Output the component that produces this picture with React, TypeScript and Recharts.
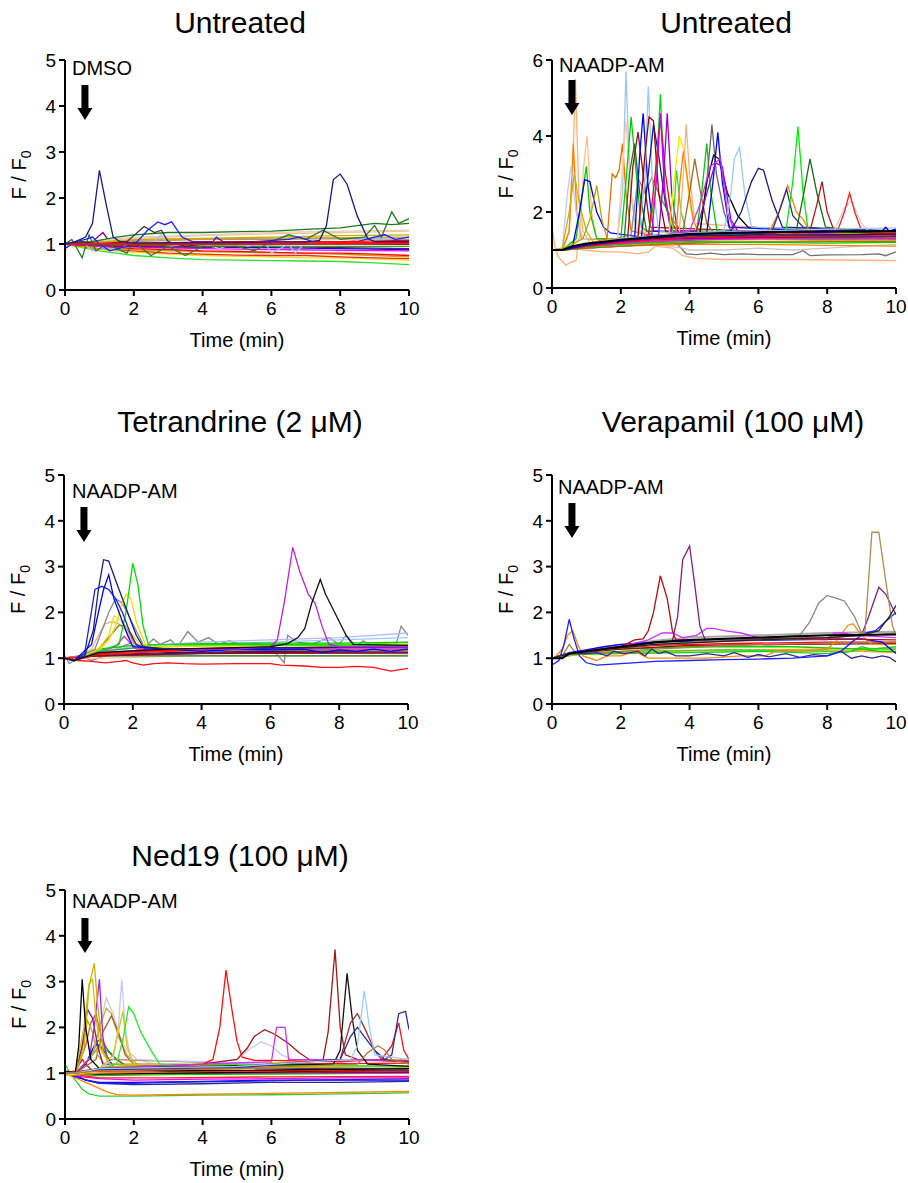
import { LineChart, Line, XAxis, YAxis, Label } from 'recharts';

type Pt = [number, number];
type Trace = { c: string; p: Pt[]; w?: number };

const FONT = 'Arial, "Liberation Sans", sans-serif';
const X_TICKS = [0, 2, 4, 6, 8, 10];
const Y_TICKS_5 = [0, 1, 2, 3, 4, 5];
const Y_TICKS_6 = [0, 2, 4, 6];

// Untreated + DMSO
const DMSO_TRACES: Trace[] = [
  { c: '#33dd33', p: [[0, 1], [0.5, 0.92], [1, 0.85], [2, 0.75], [3, 0.7], [4, 0.66], [5, 0.65], [6, 0.64], [7, 0.63], [8, 0.62], [9, 0.59], [10, 0.55]] },
  { c: '#e8e000', p: [[0, 1], [1, 0.88], [2, 0.82], [3, 0.78], [4, 0.75], [5, 0.73], [6, 0.72], [7, 0.7], [8, 0.7], [9, 0.67], [10, 0.65]] },
  { c: '#ff2020', p: [[0, 1], [1, 0.9], [2, 0.85], [3, 0.8], [4, 0.78], [5, 0.76], [6, 0.75], [7, 0.75], [8, 0.72], [9, 0.7], [10, 0.68]] },
  { c: '#d4a000', p: [[0, 1], [1, 0.9], [3, 0.85], [5, 0.82], [7, 0.8], [9, 0.75], [10, 0.72]] },
  { c: '#ff0000', p: [[0, 1], [1, 0.95], [2, 0.9], [3, 0.88], [4, 0.85], [5, 0.84], [6, 0.82], [7, 0.8], [8, 0.8], [9, 0.78], [10, 0.75]] },
  { c: '#ff00ff', p: [[0, 1], [1, 0.95], [2, 0.93], [4, 0.9], [6, 0.88], [8, 0.86], [10, 0.85]] },
  { c: '#0000ff', p: [[0, 1], [1, 0.97], [2, 0.95], [4, 0.93], [6, 0.92], [8, 0.9], [10, 0.88]] },
  { c: '#800080', p: [[0, 1], [0.8, 1.05], [1.1, 1.25], [1.4, 0.95], [2, 0.95], [4, 0.93], [6, 0.95], [8, 0.92], [10, 0.9]] },
  { c: '#00c000', p: [[0, 1], [1, 0.98], [2, 0.97], [4, 0.96], [6, 0.95], [8, 0.95], [10, 0.95]] },
  { c: '#999999', p: [[0, 1], [2, 1.05], [4, 1.1], [6, 1.1], [8, 1.12], [10, 1.1]] },
  { c: '#c0b000', p: [[0, 1], [1, 1.05], [2, 1.1], [4, 1.12], [6, 1.15], [8, 1.18], [10, 1.2]] },
  { c: '#ffc090', p: [[0, 1], [1, 1.08], [2, 1.12], [4, 1.18], [6, 1.22], [8, 1.25], [10, 1.28]] },
  { c: '#e0d0c0', p: [[0, 1], [2, 1.15], [4, 1.2], [6, 1.25], [8, 1.28], [10, 1.3]] },
  { c: '#d0a020', p: [[0, 1], [2, 1.08], [5, 1.12], [10, 1.15]] },
  { c: '#aabbee', p: [[0, 0.95], [0.5, 1.05], [0.8, 0.85], [1.2, 0.9], [1.5, 0.85], [2, 1.05], [2.5, 1.0], [2.8, 1.2], [3, 0.95], [3.5, 1.0], [4, 1.0], [4.5, 0.9], [5, 1.05], [5.3, 0.95], [5.8, 1.05], [6, 0.8], [6.5, 1.0], [6.7, 0.8], [7, 1.05], [8, 1.0], [8.5, 1.1], [9, 1.15], [9.5, 1.05], [10, 1.1]] },
  { c: '#1a7a1a', p: [[0, 1], [0.8, 1.05], [1.5, 1.15], [2, 1.2], [3, 1.25], [4, 1.25], [5, 1.27], [6, 1.28], [7, 1.32], [8, 1.35], [8.5, 1.4], [9, 1.45], [9.5, 1.42], [10, 1.45]] },
  { c: '#2a7a2a', p: [[0, 1], [0.2, 1.1], [0.5, 0.7], [0.7, 1.2], [0.9, 0.85], [1.2, 1.0], [1.8, 0.8], [2.0, 1.05], [2.5, 0.75], [3, 0.95], [3.5, 0.75], [4, 0.95], [5, 0.95], [5.5, 0.85], [6, 1.05], [6.5, 1.2], [7, 1.1], [7.5, 1.3], [8, 1.1], [8.7, 1.15], [9, 1.4], [9.2, 1.15], [9.5, 1.7], [9.7, 1.45], [10, 1.55]] },
  { c: '#333333', p: [[0, 1], [0.5, 1.05], [1, 1.0], [1.8, 1.05], [2.3, 1.38], [2.6, 1.25], [2.8, 1.3], [3.0, 1.05], [3.5, 0.95], [4, 1.0], [6, 1.0], [8, 1.02], [10, 1.0]] },
  { c: '#2020ff', p: [[0, 0.9], [0.3, 1.05], [0.6, 1.1], [0.8, 1.15], [1.0, 1.0], [1.3, 0.85], [1.8, 0.95], [2.1, 1.05], [2.4, 1.3], [2.7, 1.48], [2.9, 1.42], [3.1, 1.48], [3.4, 1.15], [3.7, 1.05], [4.3, 1.05], [4.4, 1.15], [4.6, 1.05], [5.5, 1.05], [6.5, 1.1], [6.8, 1.15], [7.2, 1.05], [8.5, 1.05], [9, 1.15], [9.3, 1.2], [9.6, 1.1], [10, 1.15]] },
  { c: '#a00000', p: [[0, 1], [2, 0.98], [5, 1.0], [10, 1.0]] },
  { c: '#ff0000', p: [[0, 1], [2, 1.02], [5, 1.05], [8, 1.05], [10, 1.08]] },
  { c: '#ff1010', p: [[0, 1], [1, 1.0], [2, 1.0], [4, 1.0], [6, 1.0], [8, 1.02], [10, 1.02]], w: 2 },
  { c: '#1a1a80', p: [[0, 1], [0.3, 1.05], [0.6, 1.15], [0.8, 1.45], [1.0, 2.6], [1.2, 1.85], [1.4, 1.15], [1.6, 1.05], [2, 1.02], [4, 1.03], [6, 1.04], [7, 1.04], [7.4, 1.08], [7.6, 1.4], [7.8, 2.4], [8.0, 2.52], [8.2, 2.3], [8.5, 1.6], [8.8, 1.12], [9, 1.05], [10, 1.05]] },
];

// Untreated + NAADP-AM
const NAADP_TRACES: Trace[] = [
  { c: '#707070', p: [[0, 1], [0.3, 1], [1, 1.05], [2, 1.1], [3, 1.15], [3.6, 1.2], [3.9, 0.9], [4.2, 0.88], [4.6, 0.92], [5, 0.88], [5.5, 0.9], [6, 0.88], [7, 0.88], [7.3, 0.98], [7.5, 0.85], [8, 0.87], [9, 0.88], [9.5, 0.9], [9.7, 0.85], [10, 0.95]] },
  { c: '#ffb07a', p: [[0, 1.65], [0.1, 1.0], [0.2, 0.8], [0.4, 0.6], [0.55, 0.68], [0.7, 0.72], [0.75, 1.1], [0.9, 1.0], [1.5, 0.95], [2, 0.95], [2.5, 0.9], [2.8, 0.95], [3, 1.1], [3.5, 1.05], [3.8, 0.85], [4.2, 0.78], [5, 0.75], [7, 0.75], [9, 0.73], [10, 0.72]] },
  { c: '#c8c8c8', p: [[0, 1], [0.3, 1], [1, 1.05], [2, 1.1], [3, 1.15], [3.8, 1.05], [4, 1.0], [5, 1.0], [6, 1.05], [7, 1.0], [8, 1.05], [9, 1.1], [10, 1.15]] },
  { c: '#ffb07a', p: [[0, 1], [0.3, 1], [0.5, 1.5], [0.6, 3.0], [0.68, 5.5], [0.78, 2.5], [0.9, 1.5], [1.1, 1.2], [2, 1.25], [4, 1.3], [10, 1.3]] },
  { c: '#ff8000', p: [[0, 1], [0.3, 1], [0.5, 1.5], [0.62, 3.8], [0.72, 2.0], [0.85, 1.3], [2, 1.25], [5, 1.3], [10, 1.28]] },
  { c: '#c0c8ff', p: [[0, 1], [0.3, 1.05], [0.45, 2.5], [0.55, 3.2], [0.7, 2.0], [0.9, 1.3], [2, 1.3], [10, 1.4]] },
  { c: '#ffc090', p: [[0, 1], [0.3, 1], [0.8, 1.3], [0.92, 3.2], [1.02, 4.0], [1.15, 2.0], [1.3, 1.3], [3, 1.3], [10, 1.35]] },
  { c: '#c8b400', p: [[0, 1], [0.3, 1.05], [0.5, 2.0], [0.65, 3.0], [0.8, 2.2], [1.0, 1.5], [1.2, 1.2], [3, 1.25], [10, 1.3]] },
  { c: '#00cc00', p: [[0, 1], [0.3, 1], [0.7, 1.3], [0.9, 2.6], [1.0, 3.2], [1.1, 2.0], [1.3, 1.3], [3, 1.3], [10, 1.35]] },
  { c: '#0000ff', p: [[0, 1], [0.3, 1], [0.6, 1.1], [0.8, 2.0], [0.95, 2.85], [1.1, 2.8], [1.3, 2.0], [1.5, 1.6], [1.7, 1.45], [2.5, 1.35], [10, 1.45]] },
  { c: '#b8a800', p: [[0, 1], [0.3, 1], [0.9, 1.3], [1.1, 1.8], [1.3, 2.7], [1.45, 1.8], [1.6, 1.3], [3, 1.3], [10, 1.3]] },
  { c: '#e87000', p: [[0, 1], [0.3, 1], [1, 1.15], [1.6, 1.3], [1.75, 3.0], [1.85, 2.9], [1.95, 3.1], [2.05, 3.8], [2.15, 2.5], [2.3, 1.5], [3, 1.35], [10, 1.3]] },
  { c: '#99c8f0', p: [[0, 1], [0.3, 1], [1, 1.15], [1.9, 1.3], [2.05, 2.5], [2.15, 5.7], [2.28, 2.5], [2.45, 1.5], [3, 1.4], [10, 1.5]] },
  { c: '#ffc8a0', p: [[0, 1], [0.3, 1], [1, 1.15], [1.9, 1.3], [2.05, 3.2], [2.15, 4.4], [2.3, 2.5], [2.5, 1.5], [10, 1.35]] },
  { c: '#00cc00', p: [[0, 1], [0.3, 1], [1, 1.15], [2.0, 1.3], [2.15, 2.8], [2.3, 4.5], [2.45, 3.0], [2.6, 1.6], [3, 1.35], [10, 1.25]] },
  { c: '#1a7a1a', p: [[0, 1], [0.3, 1], [1, 1.1], [2.1, 1.3], [2.25, 3.0], [2.4, 3.8], [2.55, 2.5], [2.75, 1.5], [10, 1.3]] },
  { c: '#888888', p: [[0, 1], [0.3, 1], [1, 1.1], [2.3, 1.4], [2.5, 2.9], [2.7, 2.5], [2.9, 2.9], [3.2, 2.3], [3.5, 1.8], [3.8, 1.45], [10, 1.4]] },
  { c: '#8b1a1a', p: [[0, 1], [0.3, 1], [1, 1.1], [2.2, 1.3], [2.35, 3.2], [2.5, 4.1], [2.65, 3.0], [2.85, 1.6], [10, 1.35]] },
  { c: '#0000ff', p: [[0, 1], [0.3, 1], [1, 1.12], [2.4, 1.3], [2.55, 3.5], [2.65, 4.6], [2.78, 2.8], [2.95, 1.5], [10, 1.45]] },
  { c: '#99c8f0', p: [[0, 1], [0.3, 1], [1, 1.1], [2.5, 1.35], [2.7, 2.8], [2.8, 5.3], [2.92, 2.8], [3.1, 1.5], [10, 1.5]] },
  { c: '#990000', p: [[0, 1], [0.3, 1], [1, 1.1], [2.5, 1.35], [2.7, 3.5], [2.82, 4.5], [2.95, 4.4], [3.1, 2.5], [3.3, 1.5], [10, 1.4]] },
  { c: '#1a1a80', p: [[0, 1], [0.3, 1], [1, 1.1], [2.6, 1.35], [2.8, 3.0], [2.95, 4.3], [3.1, 3.5], [3.3, 2.2], [3.5, 1.5], [10, 1.4]] },
  { c: '#00dd00', p: [[0, 1], [0.3, 1], [1, 1.1], [2.8, 1.35], [3.0, 2.5], [3.15, 5.1], [3.28, 2.5], [3.45, 1.5], [10, 1.3]] },
  { c: '#ff0000', p: [[0, 1], [0.3, 1], [1, 1.1], [2.8, 1.35], [3.0, 3.0], [3.15, 4.5], [3.3, 3.0], [3.5, 1.7], [3.7, 1.4], [10, 1.4]] },
  { c: '#cc00ff', p: [[0, 1], [0.3, 1], [1, 1.1], [2.9, 1.4], [3.05, 3.0], [3.15, 4.6], [3.28, 2.5], [3.45, 1.5], [10, 1.35]] },
  { c: '#9900cc', p: [[0, 1], [0.3, 1], [1, 1.1], [3.1, 1.4], [3.25, 3.0], [3.35, 4.6], [3.48, 2.5], [3.65, 1.5], [10, 1.35]] },
  { c: '#eeee00', p: [[0, 1], [0.3, 1], [1, 1.1], [3.4, 1.4], [3.55, 2.8], [3.7, 4.0], [3.85, 3.6], [4.0, 2.2], [4.2, 1.5], [10, 1.35]] },
  { c: '#33dd33', p: [[0, 1], [0.3, 1], [1, 1.1], [3.5, 1.4], [3.62, 3.1], [3.75, 2.0], [3.9, 1.5], [10, 1.3]] },
  { c: '#ff8000', p: [[0, 1], [0.3, 1], [1, 1.1], [3.6, 1.4], [3.72, 2.8], [3.82, 3.6], [3.95, 2.8], [4.1, 1.8], [4.3, 1.4], [10, 1.3]] },
  { c: '#ffb07a', p: [[0, 1], [0.3, 1], [1, 1.1], [3.7, 1.45], [3.82, 3.0], [3.9, 4.3], [4.0, 3.0], [4.15, 1.7], [10, 1.35]] },
  { c: '#a06a2a', p: [[0, 1], [0.3, 1], [1, 1.1], [3.8, 1.45], [4.0, 2.5], [4.15, 3.4], [4.3, 2.6], [4.5, 1.7], [4.7, 1.45], [10, 1.3]] },
  { c: '#00cc00', p: [[0, 1], [0.3, 1], [1, 1.1], [4.2, 1.45], [4.35, 2.5], [4.5, 3.8], [4.62, 2.5], [4.8, 1.5], [10, 1.35]] },
  { c: '#666666', p: [[0, 1], [0.3, 1], [1, 1.1], [4.3, 1.45], [4.5, 2.8], [4.65, 4.3], [4.78, 3.0], [5.0, 2.0], [5.2, 1.5], [10, 1.4]] },
  { c: '#000000', p: [[0, 1], [0.3, 1], [1, 1.1], [4.3, 1.45], [4.5, 2.8], [4.7, 3.5], [4.85, 3.4], [5.1, 2.5], [5.4, 1.9], [5.7, 1.6], [10, 1.45]] },
  { c: '#0000ff', p: [[0, 1], [0.3, 1], [1, 1.1], [4.5, 1.45], [4.68, 2.8], [4.82, 4.1], [4.95, 2.8], [5.15, 1.6], [10, 1.4]] },
  { c: '#9900cc', p: [[0, 1], [0.3, 1], [1, 1.1], [4.2, 1.5], [4.5, 2.5], [4.75, 3.3], [4.95, 3.2], [5.2, 1.8], [5.4, 1.5], [10, 1.35]] },
  { c: '#cc33ff', p: [[0, 1], [0.3, 1], [1, 1.1], [4.0, 1.5], [4.3, 2.2], [4.6, 3.2], [4.9, 3.4], [5.1, 2.0], [5.3, 1.5], [10, 1.4]] },
  { c: '#99c8f0', p: [[0, 1], [0.3, 1], [1, 1.1], [5.0, 1.5], [5.2, 2.5], [5.3, 3.4], [5.45, 3.7], [5.6, 2.5], [5.8, 1.6], [10, 1.5]] },
  { c: '#1a1a80', p: [[0, 1], [0.3, 1], [1, 1.1], [5.2, 1.5], [5.5, 2.0], [5.8, 2.8], [6.0, 3.15], [6.15, 3.1], [6.4, 2.3], [6.7, 1.6], [10, 1.5]] },
  { c: '#ff8000', p: [[0, 1], [0.3, 1], [1, 1.1], [6.3, 1.45], [6.6, 2.0], [6.85, 2.7], [7.1, 2.0], [7.3, 1.8], [7.5, 1.5], [10, 1.35]] },
  { c: '#2a2a90', p: [[0, 1], [0.3, 1], [1, 1.1], [6.4, 1.5], [6.6, 2.0], [6.82, 2.6], [7.0, 1.9], [7.3, 1.6], [10, 1.45]] },
  { c: '#00ee00', p: [[0, 1], [0.3, 1], [1, 1.1], [6.8, 1.5], [7.0, 2.8], [7.15, 4.25], [7.3, 2.5], [7.45, 1.5], [10, 1.4]] },
  { c: '#1a6a1a', p: [[0, 1], [0.3, 1], [1, 1.1], [7.1, 1.5], [7.3, 2.4], [7.5, 3.4], [7.7, 2.5], [7.95, 1.6], [10, 1.4]] },
  { c: '#b01a1a', p: [[0, 1], [0.3, 1], [1, 1.1], [7.5, 1.5], [7.7, 2.2], [7.85, 2.8], [8.0, 2.0], [8.2, 1.5], [10, 1.4]] },
  { c: '#d0d0d0', p: [[0, 1], [0.3, 1], [1, 1.1], [8.2, 1.5], [8.5, 2.1], [8.7, 2.3], [9.0, 1.7], [9.2, 1.5], [10, 1.5]] },
  { c: '#ff2020', p: [[0, 1], [0.3, 1], [1, 1.1], [8.3, 1.5], [8.5, 2.0], [8.65, 2.5], [8.8, 2.0], [9.0, 1.5], [10, 1.45]] },
  { c: '#ff8000', p: [[0, 1], [0.3, 1], [1, 1.05], [2, 1.1], [4, 1.15], [6, 1.15], [8, 1.12], [10, 1.1]] },
  { c: '#c8b400', p: [[0, 1], [0.3, 1], [1, 1.08], [2, 1.14], [4, 1.2], [6, 1.22], [8, 1.25], [10, 1.25]] },
  { c: '#a06a2a', p: [[0, 1], [0.3, 1], [1, 1.05], [3, 1.15], [5, 1.2], [8, 1.22], [10, 1.22]] },
  { c: '#00cc00', p: [[0, 1], [0.3, 1], [1, 1.08], [2, 1.15], [3, 1.2], [4, 1.22], [6, 1.2], [8, 1.18], [10, 1.2]] },
  { c: '#1a7a1a', p: [[0, 1], [0.3, 1], [1, 1.1], [2, 1.2], [3, 1.25], [5, 1.3], [8, 1.32], [10, 1.3]] },
  { c: '#800080', p: [[0, 1], [0.3, 1], [1, 1.12], [2, 1.22], [4, 1.3], [6, 1.33], [10, 1.35]] },
  { c: '#ff00ff', p: [[0, 1], [0.3, 1], [1, 1.1], [3, 1.25], [6, 1.3], [10, 1.3]] },
  { c: '#ff0000', p: [[0, 1], [0.3, 1], [1, 1.1], [2, 1.2], [3, 1.28], [4, 1.33], [6, 1.36], [8, 1.38], [10, 1.4]] },
  { c: '#b0c8f0', p: [[0, 1], [0.3, 1], [1, 1.15], [2, 1.3], [4, 1.45], [6, 1.5], [8, 1.55], [10, 1.58]] },
  { c: '#1a1a80', p: [[0, 1], [0.3, 1], [1, 1.13], [2, 1.25], [4, 1.38], [6, 1.4], [8, 1.4], [10, 1.42]] },
  { c: '#0000ff', p: [[0, 1], [0.3, 1], [1, 1.15], [2, 1.25], [3, 1.35], [4, 1.42], [6, 1.45], [8, 1.5], [9.6, 1.5], [9.7, 1.6], [9.8, 1.5], [10, 1.55]] },
  { c: '#000000', p: [[0, 1], [0.3, 1.0], [0.6, 1.1], [1, 1.17], [1.5, 1.22], [2, 1.27], [3, 1.35], [4, 1.42], [5, 1.45], [6, 1.47], [8, 1.48], [10, 1.5]], w: 2 },
];

// Tetrandrine (2 µM)
const TET_TRACES: Trace[] = [
  { c: '#888888', p: [[0, 1.1], [0.15, 0.88], [0.3, 0.95], [0.5, 1.05], [0.8, 0.95], [1.2, 1.05], [1.5, 1.2], [2, 1.35], [2.3, 1.2], [2.6, 1.42], [2.8, 1.3], [3.1, 1.4], [3.3, 1.25], [3.6, 1.58], [3.9, 1.35], [4.2, 1.45], [4.5, 1.3], [4.8, 1.38], [5.2, 1.28], [5.6, 1.32], [6.0, 1.25], [6.4, 0.9], [6.5, 1.5], [6.8, 1.35], [7.2, 1.3], [7.7, 1.45], [8.0, 1.3], [8.2, 1.5], [8.5, 1.25], [8.7, 1.38], [9.0, 1.25], [9.3, 1.35], [9.6, 1.15], [9.8, 1.7], [10, 1.5]] },
  { c: '#b8b8ff', p: [[0, 1], [0.4, 1.0], [1, 1.15], [2, 1.25], [4, 1.35], [6, 1.4], [8, 1.45], [9, 1.5], [10, 1.55]] },
  { c: '#99ccff', p: [[0, 1], [1, 1.12], [2, 1.22], [4, 1.3], [6, 1.35], [8, 1.4], [10, 1.45]] },
  { c: '#ffc090', p: [[0, 1], [1, 1.0], [4, 1.05], [10, 1.05]] },
  { c: '#1a7a1a', p: [[0, 1], [1, 1.05], [2, 1.05], [5, 1.05], [10, 1.05]] },
  { c: '#ff8000', p: [[0, 1], [1, 1.05], [3, 1.1], [6, 1.12], [10, 1.12]] },
  { c: '#a06a2a', p: [[0, 1], [1, 1.05], [5, 1.12], [10, 1.1]] },
  { c: '#800080', p: [[0, 1], [1, 1.05], [4, 1.1], [10, 1.12]] },
  { c: '#a00000', p: [[0, 1], [1, 1.05], [3, 1.1], [6, 1.12], [10, 1.15]] },
  { c: '#1a1a80', p: [[0, 1], [1, 1.08], [3, 1.12], [6, 1.15], [10, 1.15]] },
  { c: '#000000', p: [[0, 1], [1, 1.1], [3, 1.18], [6, 1.2], [10, 1.2]] },
  { c: '#ff00ff', p: [[0, 1], [1, 1.1], [4, 1.18], [10, 1.2]] },
  { c: '#e0d000', p: [[0, 1], [1, 1.1], [3, 1.15], [6, 1.2], [10, 1.35]] },
  { c: '#22bb22', p: [[0, 1], [0.3, 0.95], [1, 1.15], [2, 1.22], [4, 1.28], [6, 1.3], [10, 1.3]] },
  { c: '#00cc00', p: [[0, 1], [0.3, 0.95], [0.6, 1.1], [1, 1.2], [2, 1.28], [4, 1.32], [6, 1.33], [8, 1.33], [10, 1.35]] },
  { c: '#ff2020', p: [[0, 1], [1, 1.08], [3, 1.15], [6, 1.2], [10, 1.3]] },
  { c: '#ff0000', p: [[0, 1], [0.3, 0.95], [1, 1.1], [2, 1.15], [4, 1.2], [6, 1.22], [8, 1.25], [10, 1.25]], w: 1.6 },
  { c: '#ff1010', p: [[0, 1], [0.2, 0.98], [0.4, 0.95], [0.8, 0.93], [1.2, 0.9], [1.6, 0.93], [1.8, 0.95], [2.0, 0.9], [2.3, 0.85], [2.6, 0.88], [3, 0.9], [3.5, 0.88], [4, 0.87], [5, 0.88], [6, 0.88], [6.3, 0.85], [7, 0.83], [7.5, 0.8], [8, 0.8], [8.5, 0.82], [9, 0.8], [9.5, 0.72], [10, 0.78]] },
  { c: '#f0b080', p: [[0, 1], [0.3, 0.95], [0.8, 1.2], [1.0, 1.5], [1.2, 1.75], [1.4, 1.8], [1.6, 1.75], [1.8, 1.6], [2.0, 1.35], [2.2, 1.2], [10, 1.2]] },
  { c: '#a06a2a', p: [[0, 1], [0.3, 0.95], [1.0, 1.2], [1.3, 1.45], [1.6, 1.72], [1.8, 1.7], [2.0, 1.4], [2.2, 1.2], [10, 1.15]] },
  { c: '#888888', p: [[0, 1], [0.3, 0.95], [0.9, 1.2], [1.1, 1.6], [1.3, 2.0], [1.5, 2.3], [1.7, 2.2], [1.9, 1.9], [2.1, 1.6], [2.3, 1.3], [2.5, 1.2], [10, 1.25]] },
  { c: '#cc33cc', p: [[0, 1], [0.3, 0.95], [1, 1.15], [1.5, 1.25], [1.75, 1.48], [1.9, 1.35], [2.1, 1.2], [10, 1.2]] },
  { c: '#f0e000', p: [[0, 1], [0.3, 0.95], [1, 1.2], [1.3, 1.5], [1.45, 1.92], [1.6, 1.85], [1.8, 1.7], [2.0, 1.5], [2.2, 1.3], [10, 1.25]] },
  { c: '#eedd00', p: [[0, 1], [0.3, 0.95], [1, 1.15], [1.3, 1.4], [1.5, 1.7], [1.65, 2.1], [1.8, 2.4], [1.95, 2.3], [2.1, 1.8], [2.25, 1.5], [2.4, 1.25], [10, 1.3]] },
  { c: '#00dd00', p: [[0, 1], [0.3, 0.95], [1, 1.15], [1.6, 1.3], [1.8, 2.0], [2.0, 3.07], [2.15, 2.6], [2.3, 1.7], [2.45, 1.3], [10, 1.28]] },
  { c: '#2020ee', p: [[0, 1], [0.3, 0.95], [0.6, 1.1], [0.75, 1.8], [0.9, 2.5], [1.1, 2.57], [1.3, 2.5], [1.5, 2.3], [1.7, 2.0], [1.9, 1.6], [2.1, 1.3], [2.4, 1.2], [10, 1.25]] },
  { c: '#0000ff', p: [[0, 1], [0.3, 0.95], [0.8, 1.3], [1.0, 2.0], [1.15, 2.5], [1.3, 2.82], [1.45, 2.3], [1.65, 1.9], [1.85, 1.5], [2.0, 1.25], [3, 1.2], [4, 1.15], [5, 1.2], [6, 1.18], [7, 1.2], [7.5, 1.12], [8, 1.18], [8.5, 1.15], [9, 1.2], [9.5, 1.15], [10, 1.2]] },
  { c: '#1a1a80', p: [[0, 1], [0.3, 0.95], [0.6, 1.05], [0.85, 1.6], [1.0, 2.5], [1.15, 3.15], [1.3, 3.12], [1.5, 2.7], [1.7, 2.3], [1.9, 1.9], [2.1, 1.5], [2.3, 1.25], [3, 1.2], [10, 1.25]] },
  { c: '#bb22dd', p: [[0, 1], [0.3, 0.95], [1, 1.12], [3, 1.2], [5, 1.2], [6.0, 1.25], [6.2, 1.4], [6.4, 2.2], [6.65, 3.42], [6.85, 2.9], [7.1, 2.4], [7.3, 2.2], [7.5, 1.7], [7.7, 1.3], [8, 1.25], [10, 1.25]] },
  { c: '#111111', p: [[0, 1], [0.3, 0.95], [1, 1.12], [3, 1.2], [6, 1.25], [6.5, 1.32], [6.8, 1.45], [7.0, 1.65], [7.2, 2.2], [7.45, 2.72], [7.6, 2.4], [7.8, 2.1], [8.0, 1.8], [8.2, 1.5], [8.4, 1.3], [10, 1.28]] },
];

// Verapamil (100 µM)
const VER_TRACES: Trace[] = [
  { c: '#aaaaaa', p: [[0, 1], [0.5, 1.1], [1, 1.18], [2, 1.28], [3, 1.38], [4, 1.45], [6, 1.5], [8, 1.55], [10, 1.58]], w: 2 },
  { c: '#e0e000', p: [[0, 1], [0.5, 1.05], [1, 1.1], [3, 1.12], [6, 1.15], [10, 1.18]] },
  { c: '#c8b400', p: [[0, 1], [0.5, 1.08], [2, 1.12], [5, 1.18], [8, 1.2], [10, 1.22]] },
  { c: '#ffa040', p: [[0, 1], [0.5, 1.05], [1, 1.1], [3, 1.15], [6, 1.18], [9, 1.15], [10, 1.12]] },
  { c: '#33dd33', p: [[0, 1], [0.5, 1.1], [2, 1.15], [5, 1.18], [8, 1.15], [8.5, 1.12], [9, 1.2], [10, 1.2]] },
  { c: '#22cc22', p: [[0, 1], [0.5, 1.08], [2, 1.1], [4, 1.12], [6, 1.15], [8, 1.1], [8.7, 1.15], [9, 1.25], [9.3, 1.2], [10, 1.25]] },
  { c: '#00cc00', p: [[0, 1], [0.5, 1.1], [1, 1.15], [2, 1.2], [4, 1.25], [7, 1.25], [9, 1.2], [9.5, 1.15], [10, 1.15]] },
  { c: '#a00000', p: [[0, 1], [0.5, 1.1], [2, 1.2], [4, 1.28], [7, 1.3], [10, 1.32]] },
  { c: '#ff0000', p: [[0, 1], [0.5, 1.1], [1, 1.15], [2, 1.22], [3, 1.28], [5, 1.32], [8, 1.35], [10, 1.35]] },
  { c: '#a08040', p: [[0, 1], [0.3, 1.05], [0.5, 1.3], [0.65, 1.15], [1, 1.1], [3, 1.2], [6, 1.3], [10, 1.35]] },
  { c: '#ff8800', p: [[0, 0.95], [0.3, 1.2], [0.45, 1.5], [0.6, 1.6], [0.75, 1.3], [0.9, 1.05], [1.3, 0.95], [1.6, 1.05], [2, 1.05], [2.4, 1.15], [2.8, 1.0], [3.5, 1.0], [4.5, 1.0], [5.5, 1.05], [6.2, 1.05], [6.5, 1.15], [7, 1.15], [8, 1.2], [8.3, 1.4], [8.6, 1.72], [8.75, 1.75], [9, 1.5], [9.3, 1.3], [10, 1.3]] },
  { c: '#2a2a90', p: [[0, 1], [0.3, 1.0], [0.5, 1.1], [1, 1.1], [1.3, 1.12], [1.6, 1.05], [1.8, 1.15], [2.1, 1.1], [2.5, 1.15], [2.7, 1.05], [2.9, 1.2], [3.1, 1.1], [3.3, 1.15], [3.6, 1.05], [4, 1.05], [4.5, 1.1], [5, 1.05], [5.3, 1.12], [5.7, 1.02], [6, 1.08], [6.3, 1.03], [6.8, 1.1], [7.2, 1.02], [7.6, 1.08], [8, 1.05], [8.4, 1.15], [8.7, 1.0], [9, 1.05], [9.3, 1.0], [9.6, 1.05], [9.8, 1.02], [10, 0.92]] },
  { c: '#2020ff', p: [[0, 0.85], [0.2, 0.95], [0.35, 1.3], [0.5, 1.85], [0.65, 1.4], [0.8, 1.05], [1.0, 0.9], [1.3, 0.85], [2, 0.88], [3, 0.93], [4, 0.95], [5, 0.97], [6, 0.98], [7, 1.0], [8, 1.05], [8.4, 1.15], [8.8, 1.4], [9.1, 1.55], [9.4, 1.6], [9.7, 1.8], [10, 2.0]] },
  { c: '#0000ff', p: [[0, 1], [0.5, 1.12], [1, 1.18], [1.5, 1.25], [2, 1.3], [3, 1.35], [5, 1.38], [7, 1.4], [9, 1.42], [9.6, 1.35], [10, 1.1]] },
  { c: '#cc33ff', p: [[0, 1], [0.5, 1.1], [1, 1.15], [2, 1.25], [2.8, 1.4], [3.2, 1.55], [3.5, 1.55], [3.8, 1.45], [4.2, 1.5], [4.5, 1.65], [4.7, 1.65], [5, 1.6], [5.5, 1.55], [6, 1.45], [8, 1.4], [8.2, 1.55], [8.5, 1.55], [8.8, 1.5], [10, 1.45]] },
  { c: '#b01010', p: [[0, 1], [0.5, 1.1], [1, 1.15], [2, 1.25], [2.4, 1.4], [2.65, 1.42], [2.8, 1.6], [2.95, 2.0], [3.15, 2.8], [3.35, 2.3], [3.5, 1.6], [3.6, 1.4], [5, 1.4], [8, 1.42], [10, 1.4]] },
  { c: '#802080', p: [[0, 1], [0.5, 1.1], [1, 1.15], [2, 1.25], [3.5, 1.38], [3.65, 1.9], [3.8, 3.15], [4.0, 3.45], [4.15, 2.6], [4.3, 1.7], [4.45, 1.4], [6, 1.42], [8, 1.45], [9.0, 1.5], [9.2, 1.9], [9.5, 2.55], [9.7, 2.4], [9.9, 2.1], [10, 1.95]] },
  { c: '#888888', p: [[0, 1], [0.5, 1.1], [1, 1.15], [3, 1.3], [5, 1.4], [7.2, 1.5], [7.5, 1.8], [7.75, 2.2], [8.0, 2.37], [8.3, 2.3], [8.5, 2.25], [8.8, 1.9], [9.0, 1.55], [9.2, 1.5], [10, 1.55]] },
  { c: '#b08a50', p: [[0, 1], [0.5, 1.1], [1, 1.15], [3, 1.3], [6, 1.4], [8, 1.45], [8.9, 1.5], [9.1, 1.6], [9.3, 3.75], [9.5, 3.75], [9.7, 2.7], [9.9, 1.7], [10, 1.5]] },
  { c: '#222222', p: [[0, 1], [0.5, 1.1], [1, 1.15], [3, 1.3], [6, 1.4], [8, 1.45], [9, 1.5], [9.5, 1.6], [9.8, 1.9], [10, 2.15]] },
  { c: '#000000', p: [[0, 1], [0.3, 1], [0.5, 1.1], [1, 1.15], [2, 1.25], [3, 1.35], [4, 1.4], [6, 1.45], [8, 1.5], [10, 1.52]], w: 2 },
];

// Ned19 (100 µM)
const NED_TRACES: Trace[] = [
  { c: '#33cc33', p: [[0, 1.2], [0.15, 1.0], [0.3, 0.85], [0.5, 0.65], [0.7, 0.55], [1, 0.5], [2, 0.5], [4, 0.52], [6, 0.53], [8, 0.55], [10, 0.57]] },
  { c: '#ff8800', p: [[0, 1.0], [0.3, 0.9], [0.6, 0.8], [0.9, 0.7], [1.2, 0.6], [1.5, 0.53], [2, 0.52], [4, 0.54], [6, 0.56], [8, 0.58], [10, 0.6]] },
  { c: '#2a2a90', p: [[0, 1], [0.3, 0.95], [0.6, 0.85], [1, 0.78], [2, 0.75], [4, 0.77], [6, 0.8], [8, 0.8], [10, 0.82]] },
  { c: '#0000ff', p: [[0, 1], [0.3, 0.95], [0.6, 0.85], [1, 0.8], [2, 0.8], [4, 0.82], [6, 0.85], [8, 0.85], [10, 0.85]] },
  { c: '#2020ee', p: [[0, 1], [0.4, 0.9], [1, 0.78], [2, 0.78], [3, 0.8], [5, 0.82], [7, 0.85], [10, 0.88]] },
  { c: '#ff00ff', p: [[0, 1], [0.5, 0.92], [1, 0.88], [2, 0.85], [4, 0.87], [6, 0.88], [8, 0.9], [10, 0.9]] },
  { c: '#ff2020', p: [[0, 1], [0.5, 0.95], [1, 0.9], [3, 0.9], [6, 0.92], [10, 0.93]] },
  { c: '#00cc00', p: [[0, 1], [0.5, 0.97], [1, 0.95], [3, 0.97], [6, 0.98], [10, 1.0]] },
  { c: '#ff3399', p: [[0, 1], [1, 0.98], [4, 1.0], [10, 1.0]] },
  { c: '#800080', p: [[0, 1], [1, 1.0], [4, 1.0], [10, 1.02]] },
  { c: '#1a7a1a', p: [[0, 1], [1, 1.0], [3, 1.0], [6, 1.02], [10, 1.05]] },
  { c: '#a06a2a', p: [[0, 1], [1, 1.02], [3, 1.03], [6, 1.05], [10, 1.05]] },
  { c: '#000000', p: [[0, 1], [1, 0.98], [3, 1.0], [5, 1.02], [8, 1.05], [10, 1.08]] },
  { c: '#99ccff', p: [[0, 1], [1, 1.02], [4, 1.05], [10, 1.1]] },
  { c: '#ff8000', p: [[0, 0.95], [1, 1.0], [3, 1.03], [6, 1.05], [10, 1.1]] },
  { c: '#999999', p: [[0, 1], [1, 1.05], [3, 1.1], [6, 1.12], [10, 1.15]] },
  { c: '#ff0000', p: [[0, 1], [1, 1.05], [3, 1.08], [6, 1.12], [10, 1.15]] },
  { c: '#ff1010', p: [[0, 1], [1, 1.1], [3, 1.15], [6, 1.2], [10, 1.22]] },
  { c: '#eedd00', p: [[0, 0.95], [1, 1.05], [2, 1.12], [3, 1.15], [5, 1.2], [7, 1.25], [10, 1.3]] },
  { c: '#ff0000', p: [[0, 1], [0.3, 1.05], [0.5, 1.3], [0.6, 1.2], [0.8, 1.05], [10, 1.05]] },
  { c: '#33cc33', p: [[0, 1], [0.3, 1.0], [0.7, 1.3], [1.0, 1.6], [1.2, 1.5], [1.5, 1.3], [1.7, 1.2], [10, 1.15]] },
  { c: '#208020', p: [[0, 1], [0.3, 1.0], [0.7, 1.3], [0.95, 1.7], [1.05, 1.75], [1.25, 1.5], [1.5, 1.3], [1.8, 1.15], [10, 1.1]] },
  { c: '#0000ff', p: [[0, 1], [0.3, 1.0], [0.6, 1.2], [0.85, 1.6], [1.0, 1.62], [1.2, 1.4], [1.4, 1.15], [10, 1.1]] },
  { c: '#cccccc', p: [[0, 1], [0.3, 1.0], [0.8, 1.4], [1.0, 2.0], [1.2, 2.65], [1.4, 2.3], [1.6, 1.8], [1.8, 1.5], [2.1, 1.3], [2.6, 1.2], [10, 1.15]] },
  { c: '#d0a040', p: [[0, 1], [0.3, 1.0], [0.8, 1.4], [1.0, 2.0], [1.2, 2.42], [1.35, 2.3], [1.55, 1.8], [1.8, 1.4], [2.1, 1.2], [10, 1.15]] },
  { c: '#a06020', p: [[0, 1], [0.3, 1.0], [0.9, 1.3], [1.1, 1.9], [1.35, 2.25], [1.55, 1.9], [1.75, 1.4], [2.0, 1.2], [10, 1.1]] },
  { c: '#cc6a20', p: [[0, 1], [0.3, 1.0], [0.6, 1.6], [0.75, 2.1], [0.9, 2.3], [1.05, 1.8], [1.25, 1.3], [10, 1.1]] },
  { c: '#d0a020', p: [[0, 1], [0.3, 1.0], [0.5, 1.5], [0.65, 2.15], [0.8, 1.9], [0.95, 1.4], [1.2, 1.15], [10, 1.1]] },
  { c: '#702070', p: [[0, 1], [0.3, 1.0], [0.5, 1.6], [0.65, 2.4], [0.8, 2.2], [0.95, 1.6], [1.1, 1.2], [10, 1.05]] },
  { c: '#aa22dd', p: [[0, 1], [0.3, 1.0], [0.7, 1.3], [0.85, 2.0], [1.0, 3.05], [1.1, 1.8], [1.25, 1.2], [10, 1.1]] },
  { c: '#d0c000', p: [[0, 1], [0.3, 1.0], [0.55, 2.0], [0.7, 2.95], [0.8, 3.05], [0.9, 2.2], [1.05, 1.5], [1.3, 1.2], [10, 1.12]] },
  { c: '#c8b400', p: [[0, 1], [0.3, 1.0], [0.55, 1.5], [0.7, 2.9], [0.85, 3.4], [0.95, 2.5], [1.1, 1.5], [1.3, 1.2], [3, 1.1], [10, 1.15]] },
  { c: '#c0c8ff', p: [[0, 1], [0.3, 1.0], [1, 1.1], [1.4, 1.3], [1.55, 2.0], [1.65, 3.05], [1.75, 2.0], [1.9, 1.3], [10, 1.1]] },
  { c: '#d8c800', p: [[0, 1], [0.3, 1.0], [1, 1.1], [1.4, 1.4], [1.55, 1.9], [1.68, 2.35], [1.8, 1.6], [2.0, 1.2], [10, 1.15]] },
  { c: '#22ee22', p: [[0, 1], [0.3, 1.0], [1, 1.1], [1.5, 1.2], [1.7, 1.8], [1.85, 2.45], [2.0, 2.3], [2.2, 1.9], [2.5, 1.5], [2.75, 1.2], [10, 1.15]] },
  { c: '#000000', p: [[0, 1.05], [0.3, 1.0], [0.4, 1.6], [0.5, 3.05], [0.6, 2.0], [0.75, 1.3], [1, 1.1], [3, 1.05], [10, 1.1]] },
  { c: '#ff1010', p: [[0, 1], [0.3, 1.0], [1, 1.1], [3, 1.15], [4, 1.2], [4.3, 1.3], [4.5, 2.0], [4.68, 3.25], [4.85, 2.4], [5.0, 1.7], [5.15, 1.35], [5.5, 1.28], [6, 1.28], [8, 1.25], [9.2, 1.3], [9.5, 1.6], [9.7, 2.1], [9.85, 1.5], [10, 1.3]] },
  { c: '#c8c8f0', p: [[0, 1], [0.3, 1.0], [1, 1.1], [4, 1.2], [5, 1.3], [5.4, 1.55], [5.7, 1.68], [6.0, 1.6], [6.3, 1.4], [6.6, 1.3], [10, 1.25]] },
  { c: '#a01818', p: [[0, 1], [0.3, 1.0], [1, 1.1], [4, 1.2], [5.0, 1.3], [5.3, 1.55], [5.5, 1.8], [5.8, 1.95], [6.1, 1.85], [6.5, 1.65], [6.8, 1.45], [7.1, 1.3], [7.5, 1.28], [7.65, 1.9], [7.85, 3.7], [8.0, 2.0], [8.15, 1.4], [8.5, 1.3], [10, 1.25]] },
  { c: '#cc33ff', p: [[0, 1], [0.3, 1.0], [1, 1.1], [4, 1.2], [6.0, 1.25], [6.15, 2.0], [6.4, 2.0], [6.5, 1.3], [10, 1.28]] },
  { c: '#111111', p: [[0, 1], [0.3, 1.0], [1, 1.1], [4, 1.15], [7.8, 1.2], [8.0, 1.5], [8.2, 3.18], [8.35, 2.2], [8.5, 1.5], [8.8, 1.2], [10, 1.15]] },
  { c: '#a03030', p: [[0, 1], [0.3, 1.0], [1, 1.1], [5, 1.15], [8.0, 1.3], [8.3, 2.1], [8.5, 2.3], [8.7, 2.0], [9.0, 1.5], [9.2, 1.3], [10, 1.25]] },
  { c: '#2a2aa0', p: [[0, 1], [0.3, 1.0], [1, 1.08], [5, 1.12], [8.0, 1.3], [8.3, 1.8], [8.5, 2.0], [8.7, 1.8], [9.0, 1.5], [9.3, 1.3], [9.5, 1.4], [9.7, 2.3], [9.9, 2.35], [10, 1.95]] },
  { c: '#99ccff', p: [[0, 1], [0.3, 1.0], [1, 1.1], [5, 1.15], [8.3, 1.3], [8.5, 1.6], [8.7, 2.8], [8.85, 2.0], [9.0, 1.4], [10, 1.3]] },
  { c: '#b08040', p: [[0, 1], [0.3, 1.0], [1, 1.05], [5, 1.1], [8.5, 1.2], [8.8, 1.45], [9.1, 1.6], [9.3, 1.5], [9.5, 1.3], [10, 1.2]] },
];

type PanelDef = {
  title: string;
  titleX: number;
  titleY: number;
  note: string;
  noteX: number;
  noteY: number;
  arrowTop: number;
  px: number;
  py: number;
  ph: number;
  yMax: number;
  yTicks: number[];
  traces: Trace[];
};

const PANELS: PanelDef[] = [
  { title: 'Untreated', titleX: 240, titleY: 33, note: 'DMSO', noteX: 72, noteY: 75, arrowTop: 85, px: 65, py: 60, ph: 230, yMax: 5, yTicks: Y_TICKS_5, traces: DMSO_TRACES },
  { title: 'Untreated', titleX: 726, titleY: 33, note: 'NAADP-AM', noteX: 559, noteY: 72, arrowTop: 80, px: 552, py: 60, ph: 228, yMax: 6, yTicks: Y_TICKS_6, traces: NAADP_TRACES },
  { title: 'Tetrandrine (2 μM)', titleX: 240, titleY: 432, note: 'NAADP-AM', noteX: 72, noteY: 498, arrowTop: 507, px: 64, py: 475, ph: 229, yMax: 5, yTicks: Y_TICKS_5, traces: TET_TRACES },
  { title: 'Verapamil (100 μM)', titleX: 733, titleY: 432, note: 'NAADP-AM', noteX: 558, noteY: 494, arrowTop: 503, px: 552, py: 475, ph: 229, yMax: 5, yTicks: Y_TICKS_5, traces: VER_TRACES },
  { title: 'Ned19 (100 μM)', titleX: 240, titleY: 866, note: 'NAADP-AM', noteX: 72, noteY: 908, arrowTop: 918, px: 65, py: 890, ph: 229, yMax: 5, yTicks: Y_TICKS_5, traces: NED_TRACES },
];

const PW = 344; // plot width
const CW = 420;
const CH = 320;

function Panel({ d }: { d: PanelDef }) {
  const axisStyle = { stroke: '#000', strokeWidth: 2 };
  const tickStyle = { fill: '#000', fontSize: 19, fontFamily: FONT };
  return (
    <div style={{ position: 'absolute', left: d.px - 65, top: d.py - 20 }}>
      <LineChart
        width={CW}
        height={CH}
        margin={{ top: 20, left: 20, right: CW - 65 - PW, bottom: CH - 20 - d.ph - 30 }}
      >
        <XAxis
          dataKey="x"
          type="number"
          domain={[0, 10]}
          ticks={X_TICKS}
          allowDataOverflow
          height={30}
          tickSize={6}
          tickMargin={6}
          axisLine={axisStyle}
          tickLine={axisStyle}
          tick={tickStyle}
          interval={0}
        >
          <Label value="Time (min)" position="bottom" offset={13} style={{ fontSize: 20, fill: '#000', fontFamily: FONT }} />
        </XAxis>
        <YAxis
          dataKey="y"
          type="number"
          domain={[0, d.yMax]}
          ticks={d.yTicks}
          allowDataOverflow
          width={45}
          tickSize={6}
          tickMargin={3}
          axisLine={axisStyle}
          tickLine={axisStyle}
          tick={tickStyle}
          interval={0}
        />
        {d.traces.map((t, i) => (
          <Line
            key={i}
            data={t.p.map(([x, y]) => ({ x, y }))}
            dataKey="y"
            type="linear"
            stroke={t.c}
            strokeWidth={t.w ?? 1.3}
            dot={false}
            activeDot={false}
            isAnimationActive={false}
          />
        ))}
      </LineChart>
    </div>
  );
}

function Overlay() {
  return (
    <svg width={908} height={1183} style={{ position: 'absolute', left: 0, top: 0, pointerEvents: 'none' }}>
      {PANELS.map((d, i) => {
        const cx = d.px + 0.58 * (PW / 10);
        const t = d.arrowTop;
        const ly = d.py + d.ph / 2;
        const lx = d.px - 39;
        return (
          <g key={i} fontFamily={FONT} fill="#000">
            <text x={d.titleX} y={d.titleY} textAnchor="middle" fontSize={30}>{d.title}</text>
            <text x={d.noteX} y={d.noteY} fontSize={20}>{d.note}</text>
            <polygon
              points={`${cx - 3.5},${t} ${cx + 3.5},${t} ${cx + 3.5},${t + 23} ${cx + 7.5},${t + 23} ${cx},${t + 35} ${cx - 7.5},${t + 23} ${cx - 3.5},${t + 23}`}
              fill="#000"
            />
            <text x={lx} y={ly} textAnchor="middle" fontSize={20} transform={`rotate(-90 ${lx} ${ly})`}>
              F / F<tspan fontSize={14} dy={5}>0</tspan>
            </text>
          </g>
        );
      })}
    </svg>
  );
}

export default function App() {
  return (
    <div style={{ position: 'absolute', left: 0, top: 0, width: 908, height: 1183, background: '#fff', overflow: 'hidden', fontFamily: FONT }}>
      {PANELS.map((d, i) => (
        <Panel key={i} d={d} />
      ))}
      <Overlay />
    </div>
  );
}
